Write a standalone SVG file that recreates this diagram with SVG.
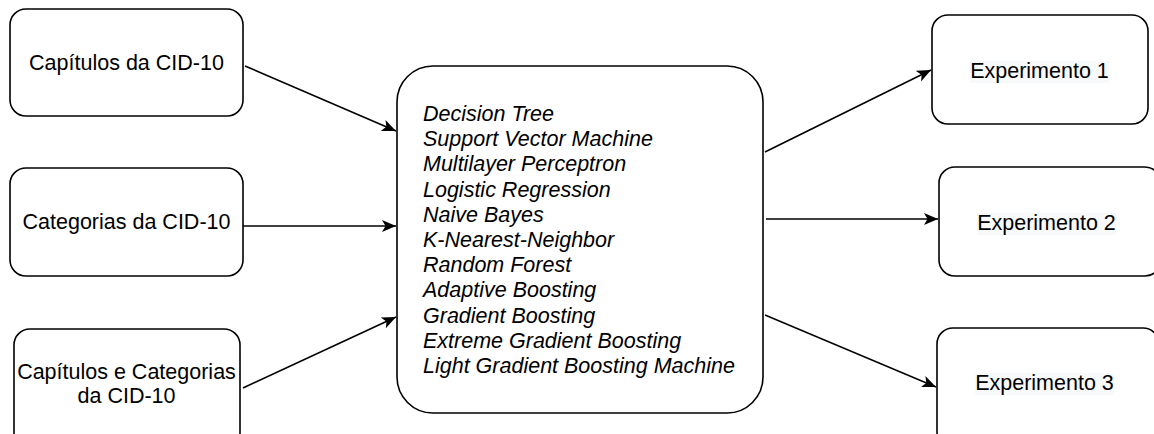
<svg xmlns="http://www.w3.org/2000/svg" width="1154" height="434" viewBox="0 0 1154 434">
<style>
.box{fill:#fff;stroke:#000;stroke-width:1.6}
.t{font-family:"Liberation Sans",Arial,sans-serif;font-size:21.5px;fill:#000}
.c{text-anchor:middle}
.i{font-style:italic}
.e{stroke:#000;stroke-width:1.6;fill:none;marker-end:url(#ah)}
.hl{fill:#f8f9fa}
</style>
<defs>
<marker id="ah" markerUnits="userSpaceOnUse" markerWidth="16" markerHeight="14" refX="14" refY="6" orient="auto" viewBox="0 0 16 12">
<path d="M0,0 L14,6 L0,12 L3.5,6 Z" fill="#000"/>
</marker>
</defs>
<rect width="1154" height="434" fill="#fff"/>
<g id="cap">
<rect class="box" x="10" y="9" width="233" height="107" rx="16"/>
<text class="t c" x="126.5" y="70">Capítulos da CID-10</text>
</g>
<g id="cat">
<rect class="box" x="10" y="168" width="233" height="108" rx="16"/>
<text class="t c" x="126.5" y="229">Categorias da CID-10</text>
</g>
<g id="capcat">
<rect class="box" x="14" y="329" width="226" height="120" rx="16"/>
<text class="t c" x="126.5" y="379">Capítulos e Categorias</text>
<text class="t c" x="126.5" y="403">da CID-10</text>
</g>
<g id="models">
<rect class="box" x="397" y="66" width="366" height="347" rx="36"/>
<text class="t i" x="423" y="121">Decision Tree</text>
<text class="t i" x="423" y="146.2">Support Vector Machine</text>
<text class="t i" x="423" y="171.4">Multilayer Perceptron</text>
<text class="t i" x="423" y="196.6">Logistic Regression</text>
<text class="t i" x="423" y="221.8">Naive Bayes</text>
<text class="t i" x="423" y="247">K-Nearest-Neighbor</text>
<text class="t i" x="423" y="272.2">Random Forest</text>
<text class="t i" x="423" y="297.4">Adaptive Boosting</text>
<text class="t i" x="423" y="322.6">Gradient Boosting</text>
<text class="t i" x="423" y="347.8">Extreme Gradient Boosting</text>
<text class="t i" x="423" y="373">Light Gradient Boosting Machine</text>
</g>
<g id="exp1">
<rect class="box" x="932" y="15" width="216" height="109" rx="16"/>
<rect class="hl" x="970" y="61" width="139" height="22"/>
<text class="t c" x="1039.5" y="78">Experimento 1</text>
</g>
<g id="exp2">
<rect class="box" x="939" y="167" width="222" height="109" rx="16"/>
<rect class="hl" x="977" y="213" width="139" height="22"/>
<text class="t c" x="1046.5" y="230">Experimento 2</text>
</g>
<g id="exp3">
<rect class="box" x="937" y="328" width="222" height="120" rx="16"/>
<rect class="hl" x="975" y="373" width="139" height="22"/>
<text class="t c" x="1044.5" y="390">Experimento 3</text>
</g>
<g id="edges">
<line class="e" x1="245" y1="66" x2="396" y2="131"/>
<line class="e" x1="243" y1="226" x2="396" y2="226"/>
<line class="e" x1="243" y1="388" x2="396" y2="317"/>
<line class="e" x1="765" y1="152" x2="931" y2="70"/>
<line class="e" x1="766" y1="219" x2="938" y2="219"/>
<line class="e" x1="765" y1="315" x2="936" y2="387"/>
</g>
</svg>
